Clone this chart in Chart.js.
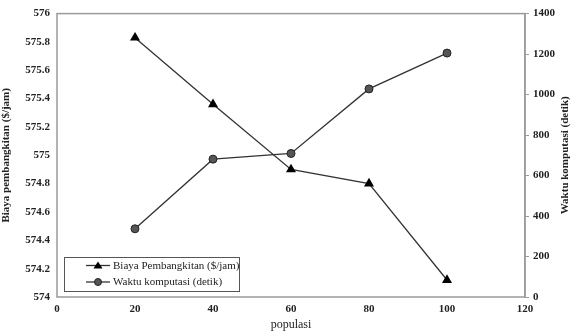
<!DOCTYPE html>
<html>
<head>
<meta charset="utf-8">
<script src="https://cdn.jsdelivr.net/npm/chart.js@4/dist/chart.umd.min.js"></script>
<style>
  html, body { margin: 0; padding: 0; background: #fff; }
  #wrap { width: 572px; height: 336px; }
</style>
</head>
<body>
<div id="wrap"><canvas id="myChart" width="572" height="336"></canvas></div>
<script>
// data
const populasi = [20, 40, 60, 80, 100];
const biaya = [575.83, 575.36, 574.90, 574.80, 574.12];
const waktu = [337, 681, 709, 1028, 1205];

const serif = "'Liberation Serif', 'DejaVu Serif', serif";

function toPoints(xs, ys) {
  return xs.map((x, i) => ({ x: x, y: ys[i] }));
}

// frame round the plot area
const framePlugin = {
  id: 'frame',
  beforeDatasetsDraw(chart) {
    const a = chart.chartArea;
    const ctx = chart.ctx;
    ctx.save();
    ctx.strokeStyle = '#9a9a9a';
    ctx.lineWidth = 1.5;
    ctx.strokeRect(a.left, a.top, a.right - a.left, a.bottom - a.top);
    ctx.restore();
  }
};

// right axis title, read bottom to top like the left one
const rightTitle = {
  id: 'rightTitle',
  afterDraw(chart) {
    const a = chart.chartArea;
    const ctx = chart.ctx;
    ctx.save();
    ctx.translate(565, (a.top + a.bottom) / 2);
    ctx.rotate(-Math.PI / 2);
    ctx.fillStyle = '#222';
    ctx.font = 'bold 11px ' + serif;
    ctx.textAlign = 'center';
    ctx.textBaseline = 'middle';
    ctx.fillText('Waktu komputasi (detik)', 0, 0);
    ctx.restore();
  }
};

// legend box inside the plot, bottom left
const boxLegend = {
  id: 'boxLegend',
  afterDraw(chart) {
    const ctx = chart.ctx;
    const x0 = 64, y0 = 257, w = 175, h = 34;
    ctx.save();
    ctx.fillStyle = '#fff';
    ctx.fillRect(x0, y0, w, h);
    ctx.strokeStyle = '#555';
    ctx.lineWidth = 1;
    ctx.strokeRect(x0 + 0.5, y0 + 0.5, w, h);
    const rows = [y0 + 8.5, y0 + 25];
    chart.data.datasets.forEach((ds, i) => {
      const y = rows[i];
      ctx.strokeStyle = ds.borderColor;
      ctx.lineWidth = 1.3;
      ctx.beginPath();
      ctx.moveTo(86, y);
      ctx.lineTo(110, y);
      ctx.stroke();
      ctx.fillStyle = ds.pointBackgroundColor;
      ctx.strokeStyle = ds.pointBorderColor;
      ctx.lineWidth = 1;
      if (ds.pointStyle === 'triangle') {
        ctx.beginPath();
        ctx.moveTo(98, y - 4);
        ctx.lineTo(102.5, y + 3);
        ctx.lineTo(93.5, y + 3);
        ctx.closePath();
        ctx.fill();
      } else {
        ctx.beginPath();
        ctx.arc(98, y, 3.5, 0, Math.PI * 2);
        ctx.fill();
        ctx.stroke();
      }
      ctx.fillStyle = '#222';
      ctx.font = '11px ' + serif;
      ctx.textBaseline = 'middle';
      ctx.fillText(ds.label, 113, y + 0.5);
    });
    ctx.restore();
  }
};

new Chart(document.getElementById('myChart'), {
  type: 'line',
  data: {
    datasets: [
      {
        label: 'Biaya Pembangkitan ($/jam)',
        data: toPoints(populasi, biaya),
        yAxisID: 'y',
        borderColor: '#333',
        borderWidth: 1.3,
        pointStyle: 'triangle',
        pointRadius: 4.5,
        pointBackgroundColor: '#000',
        pointBorderColor: '#000',
        tension: 0
      },
      {
        label: 'Waktu komputasi (detik)',
        data: toPoints(populasi, waktu),
        yAxisID: 'y1',
        borderColor: '#333',
        borderWidth: 1.3,
        pointStyle: 'circle',
        pointRadius: 4,
        pointBackgroundColor: '#555',
        pointBorderColor: '#222',
        pointBorderWidth: 1,
        tension: 0
      }
    ]
  },
  options: {
    responsive: false,
    animation: false,
    layout: { padding: { top: 12, bottom: 4, left: 0, right: 0 } },
    plugins: { legend: { display: false }, tooltip: { enabled: false } },
    scales: {
      x: {
        type: 'linear',
        min: 0, max: 120,
        ticks: { stepSize: 20, color: '#222', font: { family: serif, size: 11, weight: 'bold' }, padding: 6 },
        grid: { display: false, drawTicks: false },
        border: { display: false },
        title: { display: true, text: 'populasi', color: '#222', font: { family: serif, size: 12 }, padding: { top: 0, bottom: 0 } },
        afterFit(scale) { scale.height = 35; }
      },
      y: {
        position: 'left',
        min: 574, max: 576,
        ticks: {
          stepSize: 0.2, color: '#222', padding: 7,
          font: { family: serif, size: 11, weight: 'bold' },
          callback: v => parseFloat(v.toFixed(1)).toString()
        },
        grid: { display: false, drawTicks: false },
        border: { display: false },
        title: { display: true, text: 'Biaya pembangkitan ($/jam)', color: '#222', font: { family: serif, size: 11, weight: 'bold' }, padding: { top: 0, bottom: 2 } },
        afterFit(scale) { scale.width = 57; }
      },
      y1: {
        position: 'right',
        min: 0, max: 1400,
        ticks: { stepSize: 200, color: '#222', padding: 4, font: { family: serif, size: 11, weight: 'bold' }, callback: v => String(v) },
        grid: { drawOnChartArea: false, drawTicks: true, tickLength: 4, color: '#9a9a9a' },
        border: { display: true, color: '#9a9a9a', width: 1.5 },
        title: { display: false },
        afterFit(scale) { scale.width = 47; }
      }
    }
  },
  plugins: [framePlugin, rightTitle, boxLegend]
});
</script>
</body>
</html>
